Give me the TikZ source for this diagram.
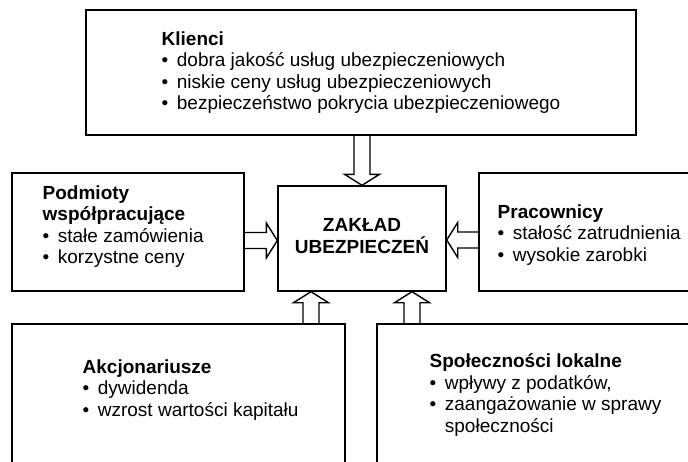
\documentclass[tikz,border=0pt]{standalone}
\usepackage{fontspec}
\setmainfont{Liberation Sans}
\usetikzlibrary{calc,positioning}

\newcommand\tekst{\fontsize{19pt}{21.5pt}\selectfont}
\newcommand\pkt{\makebox[0.8em][l]{\textbullet}}

\tikzset{
    hollow/.style={to path={
        let \p1=($(\tikztotarget)-(\tikztostart)$),
            \n1={veclen(\x1,\y1)},
            \n2={atan2(\y1,\x1)}
        in ($(\tikztostart)+(\n2+90:8pt)$)
        -- ++(\n2:\n1-11pt)
        -- ++(\n2+90:9.5pt)
        -- (\tikztotarget)
        -- ($(\tikztotarget)+(\n2+180:11pt)+(\n2-90:17.5pt)$)
        -- ++(\n2+90:9.5pt)
        -- ($(\tikztostart)+(\n2-90:8pt)$)
    }}
}

\begin{document}
\begin{tikzpicture}[
                    x=1pt,
                    y=-1pt,
                    line width=1.4pt,
                    line join=miter
                ]
                \useasboundingbox (0,0) rectangle (688,461);
                \clip (0,0) rectangle (688,461);

                \begin{scope}[
                        every node/.style={draw, rectangle, inner sep=0pt}
                    ]
                    \node[minimum width=550pt, minimum height=125pt] (klienci) at (361,72.5) {};
                    \node[minimum width=232pt, minimum height=118pt] (podmioty) at (128,232) {};
                    \node[minimum width=168pt, minimum height=105pt] (zaklad) at (362,238.5) {};
                    \node[minimum width=218pt, minimum height=118pt] (pracownicy) at (588,232) {};
                    \node[minimum width=333pt, minimum height=151pt] (akcjonariusze) at (178.5,399.5) {};
                    \node[minimum width=323pt, minimum height=151pt] (spolecznosci) at (538.5,399.5) {};
                \end{scope}

                \begin{scope}[
                        every node/.style={align=left, inner sep=0pt, anchor=north west, font=\tekst}
                    ]
                    \node (klienci-txt) at (161,31) {\textbf{Klienci}\\
                        \pkt dobra jakość usług ubezpieczeniowych\\
                        \pkt niskie ceny usług ubezpieczeniowych\\
                        \pkt bezpieczeństwo pokrycia ubezpieczeniowego};
                    \node (podmioty-txt) at (42,185) {\textbf{Podmioty}\\
                        \textbf{współpracujące}\\
                        \pkt stałe zamówienia\\
                        \pkt korzystne ceny};
                    \node (pracownicy-txt) at (497,204) {\textbf{Pracownicy}\\
                        \pkt stałość zatrudnienia\\
                        \pkt wysokie zarobki};
                    \node (akcjonariusze-txt) at (82,359) {\textbf{Akcjonariusze}\\
                        \pkt dywidenda\\
                        \pkt wzrost wartości kapitału};
                    \node (spolecznosci-txt) at (429,353) {\textbf{Społeczności lokalne}\\
                        \pkt wpływy z podatków,\\
                        \pkt zaangażowanie w sprawy\\
                        \hphantom{\pkt}społeczności};
                \end{scope}

                \node[inner sep=0pt, align=center, font=\tekst\bfseries] (zaklad-txt) at (362,236) {ZAKŁAD\\UBEZPIECZEŃ};

                % ends of the block arrows
                \coordinate (kli-in) at (zaklad.north);
                \coordinate (kli-out) at (kli-in |- klienci.south);
                \coordinate (pod-in) at ([yshift=-2pt]zaklad.west);
                \coordinate (pod-out) at (pod-in -| podmioty.east);
                \coordinate (pra-in) at ([yshift=-1.5pt]zaklad.east);
                \coordinate (pra-out) at (pra-in -| pracownicy.west);
                \coordinate (akc-in) at ([xshift=-51pt]zaklad.south);
                \coordinate (akc-out) at (akc-in |- akcjonariusze.north);
                \coordinate (spo-in) at ([xshift=50pt]zaklad.south);
                \coordinate (spo-out) at (spo-in |- spolecznosci.north);

                \path
                (kli-out) edge[hollow] (kli-in)
                (pod-out) edge[hollow] (pod-in)
                (pra-out) edge[hollow] (pra-in)
                (akc-out) edge[hollow] (akc-in)
                (spo-out) edge[hollow] (spo-in)
                ;
            \end{tikzpicture}
\end{document}
